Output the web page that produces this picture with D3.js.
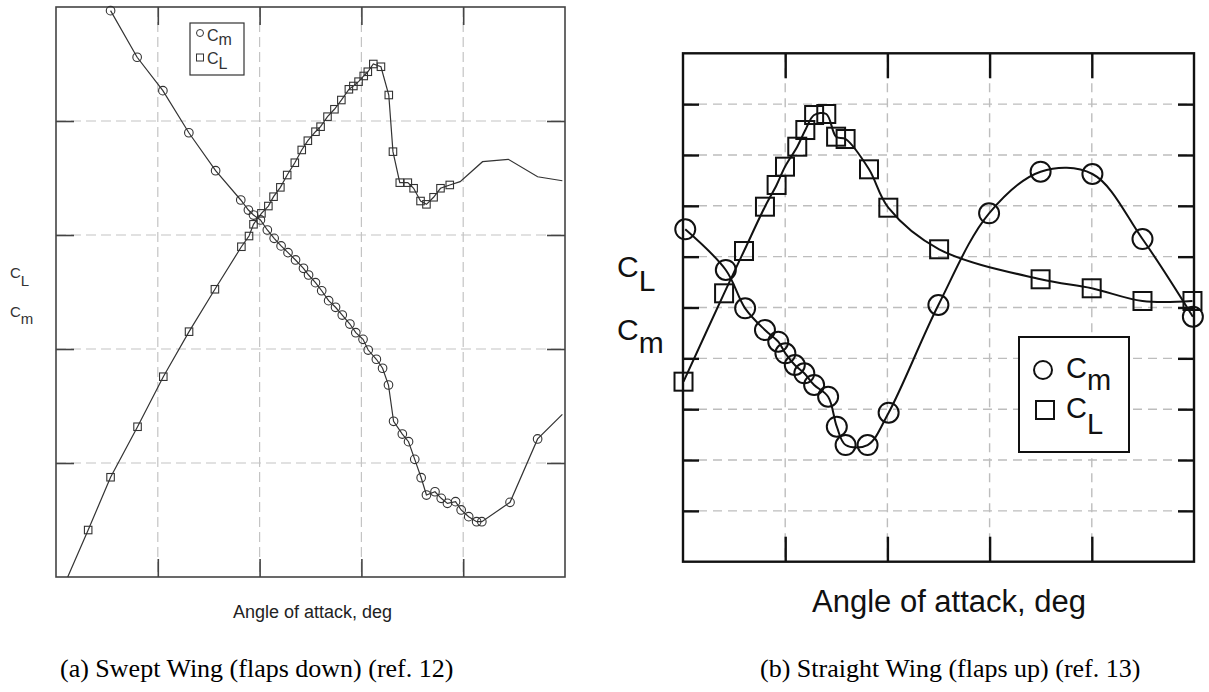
<!DOCTYPE html>
<html><head><meta charset="utf-8">
<script src="https://cdn.jsdelivr.net/npm/d3@7"></script>
<style>body{margin:0;background:#fff}</style>
</head><body>
<svg id="c" width="1209" height="692"></svg>
<script>
// ---------- Data (a) Swept Wing (flaps down), x and y in grid units ----------
const sweptAlphaCm = [0.536,0.797,1.050,1.305,1.568,1.815,1.890,1.940,2.008,2.076,2.143,2.211,2.279,2.353,2.431,2.481,2.549,2.610,2.678,2.746,2.812,2.887,2.945,3.016,3.067,3.147,3.208,3.266,3.316,3.402,3.463,3.524,3.587,3.639,3.723,3.784,3.845,3.925,3.980,4.054,4.132,4.183,4.460,4.731];
const sweptCm = [4.968,4.559,4.266,3.897,3.564,3.307,3.219,3.175,3.132,3.044,2.971,2.904,2.845,2.781,2.708,2.649,2.582,2.511,2.424,2.366,2.298,2.219,2.143,2.085,1.991,1.910,1.831,1.684,1.366,1.254,1.187,1.032,0.871,0.719,0.748,0.690,0.646,0.661,0.588,0.529,0.485,0.485,0.655,1.211];
const sweptCmTailAlpha = [4.974];
const sweptCmTail = [1.427];

const sweptClLeadAlpha = [0.115];
const sweptClLead = [0];
const sweptAlphaCl = [0.316,0.536,0.801,1.054,1.307,1.561,1.821,1.896,1.940,2.018,2.086,2.137,2.204,2.271,2.346,2.414,2.474,2.549,2.599,2.667,2.735,2.803,2.877,2.921,2.972,3.023,3.063,3.117,3.192,3.269,3.310,3.377,3.456,3.513,3.581,3.639,3.709,3.777,3.868];
const sweptCl = [0.412,0.875,1.318,1.757,2.152,2.524,2.897,2.991,3.094,3.190,3.254,3.336,3.418,3.526,3.634,3.746,3.827,3.906,3.950,4.038,4.103,4.184,4.278,4.307,4.345,4.395,4.432,4.500,4.476,4.228,3.731,3.459,3.459,3.410,3.298,3.269,3.331,3.410,3.439];
const sweptClTailAlpha = [3.970,4.190,4.443,4.731,4.974];
const sweptClTail = [3.468,3.643,3.664,3.511,3.476];

// ---------- Data (b) Straight Wing (flaps up) ----------
const straightAlphaCm = [0.022,0.419,0.608,0.802,0.932,1.002,1.094,1.187,1.283,1.420,1.505,1.591,1.806,2.012,2.499,2.995,3.499,4.006,4.496,4.989];
const straightCm = [6.538,5.738,4.984,4.557,4.327,4.099,3.869,3.706,3.476,3.245,2.655,2.295,2.295,2.931,5.049,6.853,7.671,7.626,6.347,4.819];
const straightAlphaCl = [0.005,0.402,0.597,0.802,0.916,0.998,1.118,1.197,1.283,1.402,1.498,1.591,1.820,2.009,2.506,3.499,3.999,4.496,4.985];
const straightCl = [3.541,5.279,6.111,6.983,7.410,7.770,8.163,8.491,8.786,8.806,8.360,8.314,7.718,6.963,6.145,5.555,5.378,5.128,5.128];

const xTicks = [1,2,3,4];
const yTicksA = [1,2,3,4];
const yTicksB = [1,2,3,4,5,6,7,8,9];
const xLabel = "Angle of attack, deg";
const captionA = "(a) Swept Wing (flaps down) (ref. 12)";
const captionB = "(b) Straight Wing (flaps up) (ref. 13)";

// ---------- Drawing ----------
const svg = d3.select("#c");
const SANS = "'Liberation Sans', Arial, Helvetica, sans-serif";
const SERIF = "'Liberation Serif', 'Times New Roman', serif";
const zip = (a, b) => a.map((v, i) => [v, b[i]]);

function panel(o) {
  const g = svg.append("g");
  const x = o.x, y = o.y;
  const [x0, x1] = x.range(), [y0, y1] = y.range();
  const h = y0 - y1, w = x1 - x0;
  const grid = g.append("g").attr("stroke", o.gridColor).attr("stroke-width", o.gridW).attr("stroke-dasharray", o.dash);
  grid.selectAll(".vx").data(o.xt).join("line").attr("x1", d => x(d)).attr("x2", d => x(d)).attr("y1", y1).attr("y2", y0);
  grid.selectAll(".hy").data(o.yt).join("line").attr("y1", d => y(d)).attr("y2", d => y(d)).attr("x1", x0).attr("x2", x1);
  const style = sel => { sel.select(".domain").remove(); sel.selectAll("line").attr("stroke", o.frameColor).attr("stroke-width", o.tickW); sel.selectAll("text").remove(); };
  g.append("g").attr("transform", `translate(0,${y0})`).call(d3.axisBottom(x).tickValues(o.xt).tickSize(-o.tx).tickFormat("")).call(style);
  g.append("g").attr("transform", `translate(0,${y1})`).call(d3.axisTop(x).tickValues(o.xt).tickSize(-o.tx).tickFormat("")).call(style);
  g.append("g").attr("transform", `translate(${x0},0)`).call(d3.axisLeft(y).tickValues(o.yt).tickSize(-o.ty).tickFormat("")).call(style);
  g.append("g").attr("transform", `translate(${x1},0)`).call(d3.axisRight(y).tickValues(o.yt).tickSize(-o.ty).tickFormat("")).call(style);
  g.append("rect").attr("x", x0).attr("y", y1).attr("width", w).attr("height", h)
    .attr("fill", "none").attr("stroke", o.frameColor).attr("stroke-width", o.frameW);
  return g;
}

function series(g, x, y, pts, markerPts, shape, o) {
  const line = d3.line().x(d => x(d[0])).y(d => y(d[1])).curve(o.curve);
  g.append("path").attr("d", line(pts)).attr("fill", "none").attr("stroke", o.lineColor).attr("stroke-width", o.lineW);
  const mg = g.append("g").attr("fill", "none").attr("stroke", o.lineColor).attr("stroke-width", o.mW);
  if (shape === "circle") {
    mg.selectAll("circle").data(markerPts).join("circle")
      .attr("cx", d => x(d[0])).attr("cy", d => y(d[1])).attr("r", o.r);
  } else {
    mg.selectAll("rect").data(markerPts).join("rect")
      .attr("x", d => x(d[0]) - o.s / 2).attr("y", d => y(d[1]) - o.s / 2).attr("width", o.s).attr("height", o.s);
  }
}

function subText(parent, xx, yy, main, sub, size, dy, color) {
  const t = parent.append("text").attr("x", xx).attr("y", yy).attr("font-family", SANS).attr("font-size", size).attr("fill", color);
  t.append("tspan").text(main);
  t.append("tspan").attr("dy", dy).text(sub);
}

// ---- Panel (a)
const xA = d3.scaleLinear([0, 5], [56, 565]);
const yA = d3.scaleLinear([0, 5], [577, 7]);
const gA = panel({x: xA, y: yA, xt: xTicks, yt: yTicksA, tx: 18, ty: 18, gridColor: "#c4c4c4", gridW: 1.2, dash: "10,5", frameColor: "#444", frameW: 1.6, tickW: 1.6});
const optA = {curve: d3.curveLinear, lineColor: "#333", lineW: 1.2, mW: 1.1, r: 4.3, s: 7.5};
series(gA, xA, yA, zip(sweptAlphaCm, sweptCm).concat(zip(sweptCmTailAlpha, sweptCmTail)), zip(sweptAlphaCm, sweptCm), "circle", optA);
series(gA, xA, yA, zip(sweptClLeadAlpha, sweptClLead).concat(zip(sweptAlphaCl, sweptCl), zip(sweptClTailAlpha, sweptClTail)), zip(sweptAlphaCl, sweptCl), "rect", optA);
// legend (a)
gA.append("rect").attr("x", 190).attr("y", 23).attr("width", 54).attr("height", 52).attr("fill", "#fff").attr("stroke", "#333").attr("stroke-width", 1.2);
gA.append("circle").attr("cx", 200).attr("cy", 33).attr("r", 3.5).attr("fill", "none").attr("stroke", "#333").attr("stroke-width", 1);
gA.append("rect").attr("x", 196.5).attr("y", 54).attr("width", 7).attr("height", 7).attr("fill", "none").attr("stroke", "#333").attr("stroke-width", 1);
subText(gA, 207, 41, "C", "m", 16, 4, "#333");
subText(gA, 207, 64, "C", "L", 16, 5, "#333");
// labels (a)
subText(svg, 10, 278, "C", "L", 15, 8, "#333");
subText(svg, 10, 317, "C", "m", 15, 6.5, "#333");
svg.append("text").attr("x", 233).attr("y", 618).attr("font-family", SANS).attr("font-size", 18).attr("fill", "#222").text(xLabel);

// ---- Panel (b)
const xB = d3.scaleLinear([0, 5], [683, 1194]);
const yB = d3.scaleLinear([0, 10], [561.7, 53.3]);
const gB = panel({x: xB, y: yB, xt: xTicks, yt: yTicksB, tx: 25, ty: 16, gridColor: "#bdbdbd", gridW: 1.4, dash: "9,6", frameColor: "#111", frameW: 2.4, tickW: 2.4});
const optB = {curve: d3.curveCatmullRom.alpha(0.5), lineColor: "#111", lineW: 2, mW: 2, r: 10, s: 18};
series(gB, xB, yB, zip(straightAlphaCm, straightCm), zip(straightAlphaCm, straightCm), "circle", optB);
series(gB, xB, yB, zip(straightAlphaCl, straightCl), zip(straightAlphaCl, straightCl), "rect", optB);
// legend (b)
gB.append("rect").attr("x", 1019).attr("y", 337).attr("width", 110).attr("height", 115).attr("fill", "#fff").attr("stroke", "#111").attr("stroke-width", 2);
gB.append("circle").attr("cx", 1043).attr("cy", 370).attr("r", 9).attr("fill", "none").attr("stroke", "#111").attr("stroke-width", 2);
gB.append("rect").attr("x", 1036).attr("y", 401).attr("width", 18).attr("height", 18).attr("fill", "none").attr("stroke", "#111").attr("stroke-width", 2);
subText(gB, 1066, 378, "C", "m", 29, 12, "#111");
subText(gB, 1066, 418, "C", "L", 29, 16, "#111");
// labels (b)
subText(svg, 617, 277, "C", "L", 30, 13.5, "#111");
subText(svg, 617, 340, "C", "m", 30, 13, "#111");
svg.append("text").attr("x", 812).attr("y", 612).attr("font-family", SANS).attr("font-size", 31).attr("fill", "#111").text(xLabel);

// captions
svg.append("text").attr("x", 60).attr("y", 677).attr("font-family", SERIF).attr("font-size", 26).attr("fill", "#000").text(captionA);
svg.append("text").attr("x", 760).attr("y", 677).attr("font-family", SERIF).attr("font-size", 26).attr("fill", "#000").text(captionB);
</script>
</body></html>
